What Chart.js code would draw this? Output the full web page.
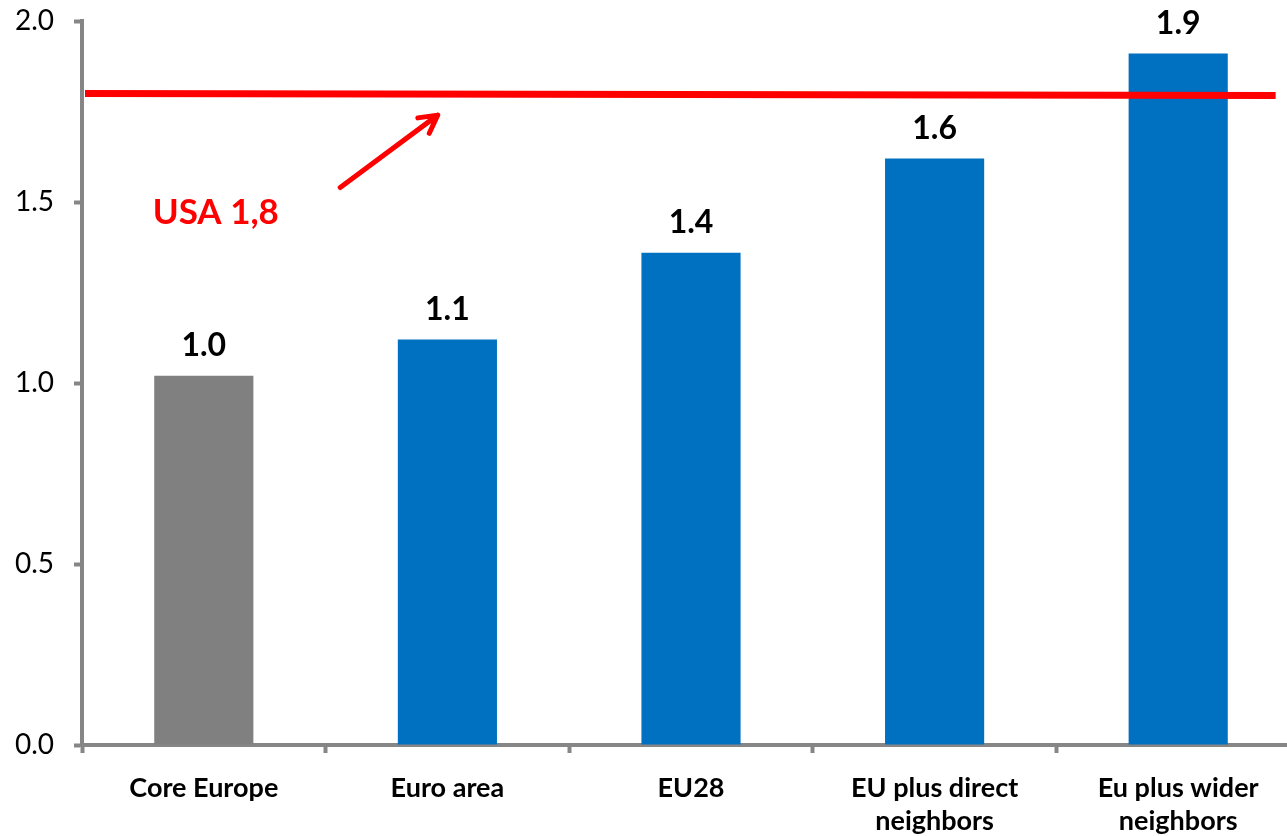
<!DOCTYPE html>
<html>
<head>
<meta charset="utf-8">
<script src="https://cdn.jsdelivr.net/npm/chart.js@4"></script>
<style>
  html, body { margin: 0; padding: 0; background: #fff; overflow: hidden; }
  #wrap { width: 1300px; height: 836px; }
</style>
</head>
<body>
<div id="wrap"><canvas id="chart"></canvas></div>
<script>
// categories and values
const categories = ['Core Europe', 'Euro area', 'EU28', ['EU plus direct', 'neighbors'], ['Eu plus wider', 'neighbors']];
const values = [1.02, 1.12, 1.36, 1.62, 1.91];
const barColors = ['#808080', '#0070C0', '#0070C0', '#0070C0', '#0070C0'];
const yTicks = [0, 0.5, 1.0, 1.5, 2.0];

// USA reference line: value at left / right end, and its horizontal span (category index units)
const usaLevel = [1.8, 1.794];
const usaSpan = [-0.5, 4.4];
const usaLabel = 'USA 1,8';
const usaLabelAt = [-0.21, 1.47];
// arrow from / to as [category index, value]
const arrowFrom = [0.56, 1.54];
const arrowTo = [0.96, 1.74];

const FONT = 'Lato, "Open Sans", sans-serif';

const overlay = {
    id: 'overlay',
    afterDatasetsDraw(chart) {
        const ctx = chart.ctx;
        const x = chart.scales.x, y = chart.scales.y;

        // value labels above bars
        const meta = chart.getDatasetMeta(0);
        ctx.save();
        ctx.fillStyle = '#000';
        ctx.font = 'bold 32px ' + FONT;
        ctx.textAlign = 'center';
        ctx.textBaseline = 'bottom';
        meta.data.forEach((bar, i) => {
            ctx.fillText(values[i].toFixed(1), bar.x, bar.y - 14);
        });

        // USA line
        ctx.strokeStyle = '#FF0000';
        ctx.lineWidth = 7;
        ctx.beginPath();
        ctx.moveTo(x.getPixelForValue(usaSpan[0]) + 3, y.getPixelForValue(usaLevel[0]));
        ctx.lineTo(x.getPixelForValue(usaSpan[1]), y.getPixelForValue(usaLevel[1]));
        ctx.stroke();

        // arrow
        const x0 = x.getPixelForValue(arrowFrom[0]), y0 = y.getPixelForValue(arrowFrom[1]);
        const x1 = x.getPixelForValue(arrowTo[0]), y1 = y.getPixelForValue(arrowTo[1]);
        const ang = Math.atan2(y1 - y0, x1 - x0);
        const head = 20;
        ctx.lineWidth = 5;
        ctx.lineCap = 'round';
        ctx.lineJoin = 'round';
        ctx.beginPath();
        ctx.moveTo(x0, y0);
        ctx.lineTo(x1, y1);
        ctx.moveTo(x1 - head * Math.cos(ang - 0.5), y1 - head * Math.sin(ang - 0.5));
        ctx.lineTo(x1, y1);
        ctx.lineTo(x1 - head * Math.cos(ang + 0.5), y1 - head * Math.sin(ang + 0.5));
        ctx.stroke();

        // label
        ctx.fillStyle = '#FF0000';
        ctx.font = 'bold 35px ' + FONT;
        ctx.textAlign = 'left';
        ctx.textBaseline = 'middle';
        ctx.fillText(usaLabel, x.getPixelForValue(usaLabelAt[0]), y.getPixelForValue(usaLabelAt[1]));
        ctx.restore();
    }
};

new Chart(document.getElementById('chart'), {
    type: 'bar',
    data: {
        labels: categories,
        datasets: [{
            data: values,
            backgroundColor: barColors,
            barPercentage: 0.407,
            categoryPercentage: 1.0
        }]
    },
    options: {
        responsive: true,
        maintainAspectRatio: false,
        animation: false,
        layout: { padding: { top: 21, right: 0, left: 0, bottom: 0 } },
        plugins: {
            legend: { display: false },
            tooltip: { enabled: false }
        },
        scales: {
            x: {
                afterFit: s => { s.height = 91; s.paddingLeft = 0; s.paddingRight = 0; },
                border: { display: true, color: '#868686', width: 4 },
                grid: {
                    offset: true,
                    drawOnChartArea: false,
                    drawTicks: true,
                    tickLength: 8,
                    tickWidth: 4,
                    tickColor: '#868686'
                },
                ticks: {
                    color: '#000',
                    padding: 19,
                    maxRotation: 0,
                    autoSkip: false,
                    font: { family: FONT, size: 27, weight: 'bold', lineHeight: 1.22 }
                }
            },
            y: {
                min: 0,
                max: 2,
                afterFit: s => { s.width = 82; s.paddingTop = 0; s.paddingBottom = 0; },
                afterBuildTicks: s => { s.ticks = yTicks.map(v => ({ value: v })); },
                border: { display: true, color: '#868686', width: 4 },
                grid: {
                    drawOnChartArea: false,
                    drawTicks: true,
                    tickLength: 8,
                    tickWidth: 4,
                    tickColor: '#868686'
                },
                ticks: {
                    color: '#000',
                    padding: 20,
                    callback: v => v.toFixed(1),
                    font: { family: FONT, size: 28, weight: 'normal' }
                }
            }
        }
    },
    plugins: [overlay]
});
</script>
</body>
</html>
